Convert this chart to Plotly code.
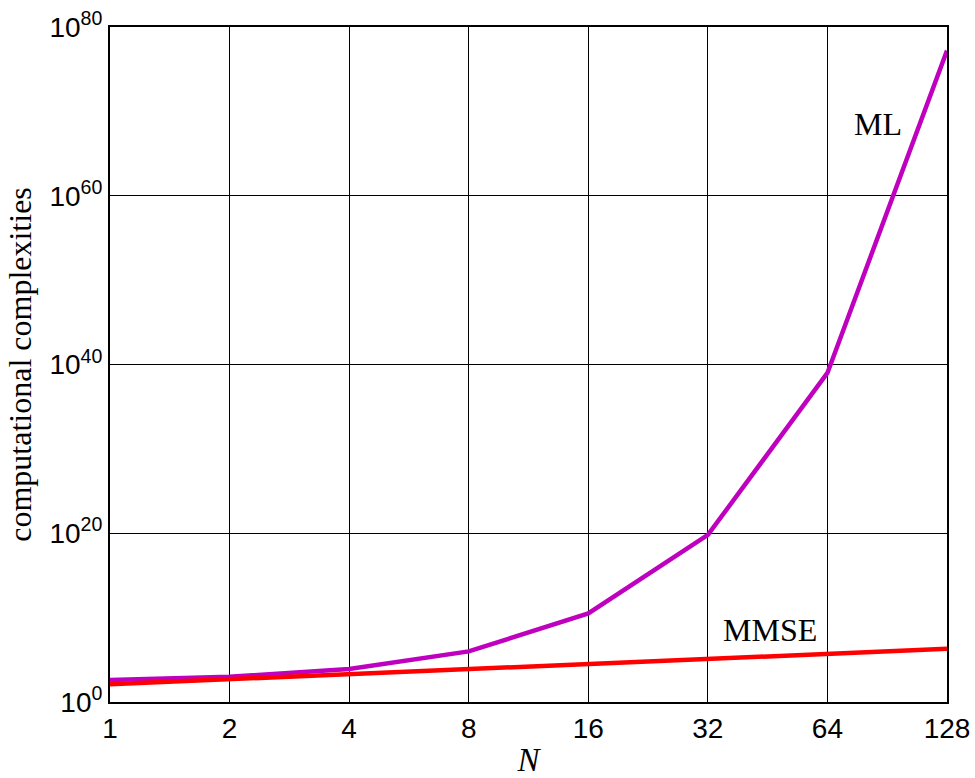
import math
import plotly.graph_objects as go

# Antenna count and log10 of the operation count for each detector
N = [1, 2, 4, 8, 16, 32, 64, 128]
ml_log10 = [2.6, 3.0, 3.9, 6.0, 10.5, 19.8, 39.0, 77.2]
mmse_log10 = [2.1, 2.7, 3.3, 3.9, 4.5, 5.2, 5.7, 6.3]

ml = [10.0 ** v for v in ml_log10]
mmse = [10.0 ** v for v in mmse_log10]

y_ticks = [0, 20, 40, 60, 80]
y_tickvals = [10.0 ** e for e in y_ticks]
y_ticktext = [f"10<sup>{e}</sup>" for e in y_ticks]
x_ticktext = [str(n) for n in N]

serif = "Liberation Serif, Times New Roman, serif"
sans = "Liberation Sans, Arial, sans-serif"

fig = go.Figure()
fig.add_trace(go.Scatter(x=N, y=ml, mode="lines", name="ML",
                         line=dict(color="#BF00BF", width=4.5)))
fig.add_trace(go.Scatter(x=N, y=mmse, mode="lines", name="MMSE",
                         line=dict(color="#FF0000", width=4.5)))

fig.add_annotation(x=math.log10(86), y=68.5, text="ML",
                   showarrow=False, font=dict(family=serif, size=32, color="black"))
fig.add_annotation(x=math.log10(46), y=8.5, text="MMSE",
                   showarrow=False, font=dict(family=serif, size=32, color="black"))

fig.update_layout(
    width=975, height=778,
    margin=dict(l=110, r=28, t=27, b=76),
    paper_bgcolor="white", plot_bgcolor="white",
    showlegend=False,
    xaxis=dict(
        type="log", range=[0, math.log10(128)], automargin=False,
        tickvals=N, ticktext=x_ticktext,
        tickfont=dict(family=sans, size=28, color="black"),
        showgrid=True, gridcolor="black", gridwidth=1,
        showline=True, linecolor="black", linewidth=2, mirror=True,
        ticks="inside", ticklen=6, tickcolor="black",
        zeroline=False,
        title=dict(text="<i>N</i>", font=dict(family=serif, size=33, color="black"),
                   standoff=10),
    ),
    yaxis=dict(
        type="log", range=[0, 80], automargin=False,
        tickvals=y_tickvals, ticktext=y_ticktext,
        tickfont=dict(family=sans, size=28, color="black"),
        showgrid=True, gridcolor="black", gridwidth=1,
        showline=True, linecolor="black", linewidth=2, mirror=True,
        ticks="inside", ticklen=6, tickcolor="black",
        zeroline=False,
        title=dict(text="computational complexities",
                   font=dict(family=serif, size=32, color="black"), standoff=8),
    ),
)

fig.write_html("out.html")
